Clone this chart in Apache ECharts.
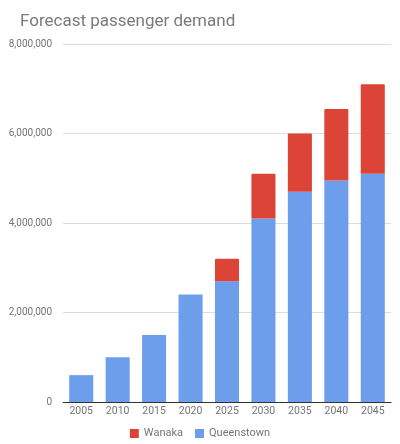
<!DOCTYPE html>
<html>
<head>
<meta charset="utf-8">
<script src="https://cdn.jsdelivr.net/npm/echarts@6/dist/echarts.min.js"></script>
<style>
  html, body { margin: 0; padding: 0; background: #fff; }
  #chart { width: 400px; height: 444px; }
</style>
</head>
<body>
<div id="chart"></div>
<script>
var years = ["2005", "2010", "2015", "2020", "2025", "2030", "2035", "2040", "2045"]
var queenstown = [600000, 1000000, 1500000, 2400000, 2700000, 4100000, 4700000, 4950000, 5100000]
var wanaka = [0, 0, 0, 0, 500000, 1000000, 1300000, 1600000, 2000000]
var yMax = 8000000
var yStep = 2000000

var chart = echarts.init(document.getElementById("chart"))
var option = {
    animation: false,
    title: {
        text: "Forecast passenger demand",
        left: 15,
        top: 8,
        textStyle: {
            fontFamily: "Roboto",
            fontSize: 17,
            fontWeight: "normal",
            color: "#7a7a7a"
        }
    },
    legend: {
        data: ["Wanaka", "Queenstown"],
        bottom: 0,
        left: "center",
        icon: "rect",
        itemWidth: 9,
        itemHeight: 9,
        itemGap: 12,
        textStyle: {
            fontFamily: "Roboto",
            fontSize: 11,
            color: "#757575"
        }
    },
    grid: {
        left: 63,
        right: 9,
        top: 44,
        bottom: 42
    },
    xAxis: {
        type: "category",
        data: years,
        axisTick: { show: false },
        axisLine: { lineStyle: { color: "#333", width: 1 } },
        axisLabel: {
            margin: 4,
            fontFamily: "Roboto",
            fontSize: 10.5,
            color: "#757575"
        }
    },
    yAxis: {
        type: "value",
        min: 0,
        max: yMax,
        interval: yStep,
        axisLabel: {
            margin: 11,
            fontFamily: "Roboto",
            fontSize: 10,
            color: "#757575",
            formatter: function (v) { return v.toLocaleString("en-US") }
        },
        splitLine: { lineStyle: { color: "#dcdcdc" } }
    },
    series: [
        {
            name: "Queenstown",
            type: "bar",
            stack: "total",
            barCategoryGap: "34%",
            data: queenstown,
            itemStyle: { color: "#6d9eeb" }
        },
        {
            name: "Wanaka",
            type: "bar",
            stack: "total",
            data: wanaka,
            itemStyle: { color: "#db4437", borderRadius: [1, 1, 0, 0] }
        }
    ]
}
chart.setOption(option)
</script>
</body>
</html>
